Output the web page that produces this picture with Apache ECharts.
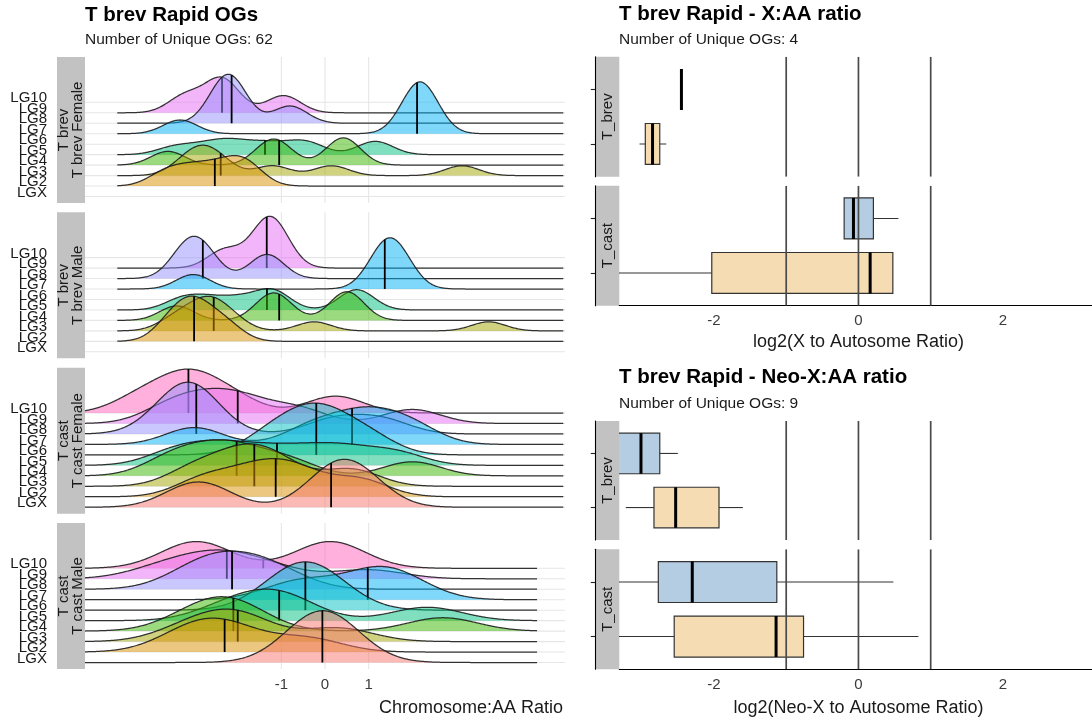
<!DOCTYPE html>
<html>
<head>
<meta charset="utf-8">
<script src="https://cdn.jsdelivr.net/npm/echarts@6/dist/echarts.min.js"></script>
<style>
  html, body { margin: 0; padding: 0; background: #ffffff; }
  #chart { width: 1092px; height: 721px; }
</style>
</head>
<body>
<div id="chart"></div>
<script>
// ---------------------------------------------------------------------------
// Data
// ---------------------------------------------------------------------------
// Linkage groups, listed bottom to top
const LG_NAMES = ['LGX', 'LG2', 'LG3', 'LG4', 'LG5', 'LG6', 'LG7', 'LG8', 'LG9', 'LG10'];

// log2 chromosome:AA ratios of the rapid OGs, one list per linkage group (order of LG_NAMES)
const BREV_FEMALE = [
  [],
  [-3.7, -3.2, -2.75, -2.3, -1.95, -1.7],
  [-3.2, -2.9, -2.7, -2.39, -1.2, 0.15, 3.14],
  [-3.6, -1.3, -1.05, 0.37, 0.47],
  [-3.5, -2.9, -2.4, -2.1, -1.6, -1.15, -0.6, -0.3, 1.05, 1.25],
  [],
  [-3.32, 2.0, 2.11, 2.25, 2.35],
  [-2.38, -2.2, -2.08, -0.8],
  [-3.2, -2.42, -2.3, -0.95],
  []
];
const BREV_MALE = [
  [],
  [-3.6, -3.3, -3.05, -2.95, -2.6, -2.2],
  [-3.5, -3.1, -2.8, -2.6, -2.5, -2.1, -0.25, 3.75],
  [-3.4, -1.3, -1.05, 0.45, 0.55],
  [-3.3, -2.7, -2.0, -1.33, -1.1, 0.65, 0.8],
  [],
  [-3.02, 1.25, 1.37, 1.6, 1.75],
  [-3.2, -2.8, -1.33],
  [-2.3, -1.42, -1.25, -1.1],
  []
];
const CAST_FEMALE = [
  [-3.2, -2.6, -0.05, 0.33, 0.55, 1.0],
  [-2.8, -1.8, -1.13, -0.5, 0.8],
  [-3.0, -2.1, -1.62, -1.0, 0.6],
  [-3.6, -2.9, -2.3, -1.75, -0.8, 2.0],
  [-3.5, -2.7, -2.0, -1.1, -0.2, 0.6, 1.65],
  [-1.3, -0.6, -0.2, 0.2, 1.0],
  [-3.0, -0.3, 0.62, 1.2, 2.0],
  [-3.6, -3.15, -3.0, -2.9, 0.2, 1.3],
  [-3.6, -2.9, -2.3, -1.7, -0.6, 2.0],
  [-4.2, -3.2, -3.13, -2.2, 0.24]
];
const CAST_MALE = [
  [-0.3, -0.06, 0.2],
  [-3.2, -2.6, -2.0, -0.4],
  [-3.1, -2.2, -1.8, 0.3],
  [-3.0, -2.3, -1.9, 2.7],
  [-2.2, -1.3, -0.8, 2.34],
  [-0.9, -0.45, 0.0],
  [-0.6, 0.98, 1.7],
  [-2.9, -2.13, -1.2],
  [-3.8, -3.0, -2.4, -2.1, -1.2, 1.0],
  [-2.95, 0.12]
];
const RIDGE_TICKS = [-1, 0, 1];

// Box plot five-number summaries [min, q1, median, q3, max]; row 0 = Female, row 1 = Male
const BOX_GROUPS = ['Female', 'Male'];
const XAA_BREV = [[-3.03, -2.95, -2.85, -2.75, -2.66], [-2.45, -2.45, -2.45, -2.45, -2.45]];
const XAA_CAST = [[-3.6, -2.03, 0.162, 0.476, 0.476], [-0.198, -0.198, -0.069, 0.207, 0.553]];
const NEOX_BREV = [[-3.22, -2.83, -2.53, -1.93, -1.60], [-3.6, -3.4, -3.01, -2.75, -2.50]];
const NEOX_CAST = [[-3.6, -2.55, -1.14, -0.76, 0.83], [-3.6, -2.77, -2.30, -1.13, 0.484]];
const BOX_TICKS = [-2, 0, 2];
const REF_LINES = [-1, 0, 1];

// ---------------------------------------------------------------------------
// Layout and style
// ---------------------------------------------------------------------------
const FONT = '"Liberation Sans", Arial, Helvetica, sans-serif';
const LG_COLORS = ['#F8766D', '#D89000', '#A3A500', '#39B600', '#00BF7D',
                   '#00BFC4', '#00B0F6', '#9590FF', '#E76BF3', '#FF62BC'];
const FILL_ALPHA = 0.5;
const RIDGE_LINE = 'rgba(25,25,25,0.88)';
const STRIP_FILL = '#c2c2c2';
const TEXT_DARK = '#1a1a1a';
const TICK_TEXT = '#3b3b3b';

const RIDGE_LEFT = 85, RIDGE_RIGHT_EDGE = 565;
const PANEL_TOP = [57, 212.3, 367.7, 523];
const PANEL_H = 146;
const Y_MIN = -0.62, Y_MAX = 13.33;       // LGX sits at 0, LG10 at 9
const X_MIN = -5.5, X_MAX = 5.5;
const PEAK = 4.95;                         // tallest ridge, in row spacings
const LABEL_LIFT = 0.38;                   // row labels sit slightly above their baselines
const LABEL_GAP = 38;                      // px between row labels and the panel

const RIDGE_PANELS = [
  { samples: BREV_FEMALE, bw: 0.39, range: [-4.76, 5.47], strip: ['T brev', 'T brev Female'] },
  { samples: BREV_MALE,   bw: 0.39, range: [-4.76, 5.47], strip: ['T brev', 'T brev Male'] },
  { samples: CAST_FEMALE, bw: 0.65, range: [-5.5, 5.47],  strip: ['T cast', 'T cast Female'] },
  { samples: CAST_MALE,   bw: 0.80, range: [-5.5, 4.87],  strip: ['T cast', 'T cast Male'] }
];

const BOX_LEFT = 619.3, BOX_RIGHT = -5.6;
const BOX_XMIN = -3.31, BOX_XMAX = 3.31;
const BOX_COLORS = ['#f5dcb2', '#b4cde3'];
const BOX_PANELS = [
  { stats: XAA_BREV,  top: 56.7,  h: 120, strip: 'T_brev', axis: false },
  { stats: XAA_CAST,  top: 185.7, h: 120, strip: 'T_cast', axis: true },
  { stats: NEOX_BREV, top: 421,   h: 119, strip: 'T_brev', axis: false },
  { stats: NEOX_CAST, top: 549.3, h: 120, strip: 'T_cast', axis: true }
];

// ---------------------------------------------------------------------------
// Density ridges (Gaussian kernel, joint bandwidth per panel)
// ---------------------------------------------------------------------------
function kde(pts, h, x) {
  let s = 0;
  for (const p of pts) { const u = (x - p) / h; s += Math.exp(-0.5 * u * u); }
  return s / (pts.length * h * Math.sqrt(2 * Math.PI));
}
function median(pts) {
  const s = pts.slice().sort((a, b) => a - b);
  const pos = (s.length - 1) / 2;
  return (s[Math.floor(pos)] + s[Math.ceil(pos)]) / 2;
}
function rgba(hex, a) {
  const n = parseInt(hex.slice(1), 16);
  return 'rgba(' + (n >> 16) + ',' + ((n >> 8) & 255) + ',' + (n & 255) + ',' + a + ')';
}

function buildRidges(panel) {
  const step = 0.02;
  const raw = [];
  let maxD = 0;
  for (let k = LG_NAMES.length - 1; k >= 0; k--) {
    const pts = panel.samples[k];
    if (!pts.length) continue;
    const curve = [];
    for (let x = panel.range[0]; x <= panel.range[1] + 1e-9; x += step) {
      const d = kde(pts, panel.bw, x);
      if (d > maxD) maxD = d;
      curve.push([x, d]);
    }
    const m = median(pts);
    raw.push({ base: k, curve, med: m, medD: kde(pts, panel.bw, m) });
  }
  const sc = PEAK / maxD;
  return raw.map(r => ({
    base: r.base,
    curve: r.curve.map(([x, d]) => [x, d * sc]),
    med: r.med,
    medH: r.medD * sc,
    fill: rgba(LG_COLORS[r.base], FILL_ALPHA)
  }));
}

function ridgeRenderer(ridges) {
  return function (params, api) {
    const r = ridges[params.dataIndex];
    const line = r.curve.map(([x, y]) => api.coord([x, r.base + y]));
    const first = api.coord([r.curve[0][0], r.base]);
    const last = api.coord([r.curve[r.curve.length - 1][0], r.base]);
    const mb = api.coord([r.med, r.base]);
    const mt = api.coord([r.med, r.base + r.medH]);
    return {
      type: 'group',
      children: [
        { type: 'polygon', shape: { points: line.concat([last, first]) },
          style: { fill: r.fill, stroke: null } },
        { type: 'polyline', shape: { points: line },
          style: { stroke: RIDGE_LINE, lineWidth: 1.25, fill: null } },
        { type: 'line', shape: { x1: mb[0], y1: mb[1], x2: mt[0], y2: mt[1] },
          style: { stroke: '#000', lineWidth: 1.8 } }
      ]
    };
  };
}

function ridgeGridRenderer(params, api) {
  const i = params.dataIndex;
  let a, b;
  if (i < LG_NAMES.length) {
    a = api.coord([X_MIN, i]); b = api.coord([X_MAX, i]);
  } else {
    const v = RIDGE_TICKS[i - LG_NAMES.length];
    a = api.coord([v, Y_MIN]); b = api.coord([v, Y_MAX]);
  }
  return { type: 'line', shape: { x1: a[0], y1: a[1], x2: b[0], y2: b[1] },
           style: { stroke: '#e6e6e6', lineWidth: 1.1 } };
}

// Row labels: placed through the panel's own scales, all of them kept even where they overlap
function rowLabelRenderer(params, api) {
  const i = params.dataIndex;
  const pt = api.coord([X_MIN, i + LABEL_LIFT]);
  return { type: 'text', x: pt[0] - LABEL_GAP, y: pt[1],
           style: { text: LG_NAMES[i], fill: TEXT_DARK, font: '15px ' + FONT,
                    align: 'right', verticalAlign: 'middle' } };
}

// ---------------------------------------------------------------------------
// Box plots
// ---------------------------------------------------------------------------
function boxRenderer(stats) {
  return function (params, api) {
    const i = params.dataIndex;
    const [mn, q1, md, q3, mx] = stats[i];
    const y = i + 1, hw = 0.375;
    const p = v => api.coord([v, y]);
    const tl = api.coord([q1, y + hw]), br = api.coord([q3, y - hw]);
    const mTop = api.coord([md, y + hw]), mBot = api.coord([md, y - hw]);
    const ch = [
      { type: 'line', shape: { x1: p(mn)[0], y1: p(mn)[1], x2: p(q1)[0], y2: p(q1)[1] },
        style: { stroke: '#333', lineWidth: 1.1 } },
      { type: 'line', shape: { x1: p(q3)[0], y1: p(q3)[1], x2: p(mx)[0], y2: p(mx)[1] },
        style: { stroke: '#333', lineWidth: 1.1 } }
    ];
    if (q3 > q1) {
      ch.push({ type: 'rect', shape: { x: tl[0], y: tl[1], width: br[0] - tl[0], height: br[1] - tl[1] },
                style: { fill: BOX_COLORS[i], stroke: '#333', lineWidth: 1.2 } });
    }
    ch.push({ type: 'line', shape: { x1: mTop[0], y1: mTop[1], x2: mBot[0], y2: mBot[1] },
              style: { stroke: '#000', lineWidth: 3 } });
    return { type: 'group', children: ch };
  };
}
function refLineRenderer(params, api) {
  const v = REF_LINES[params.dataIndex];
  const a = api.coord([v, 0.4]), b = api.coord([v, 2.6]);
  return { type: 'line', shape: { x1: a[0], y1: a[1], x2: b[0], y2: b[1] },
           style: { stroke: '#4a4a4a', lineWidth: 1.7 } };
}

// ---------------------------------------------------------------------------
// Option
// ---------------------------------------------------------------------------
const grids = [], xAxes = [], yAxes = [], series = [], graphics = [];

RIDGE_PANELS.forEach((panel, p) => {
  const top = PANEL_TOP[p];
  grids.push({ left: RIDGE_LEFT, width: RIDGE_RIGHT_EDGE - RIDGE_LEFT, top: top, height: PANEL_H,
               containLabel: false, outerBoundsMode: 'none' });
  const last = p === RIDGE_PANELS.length - 1;
  xAxes.push({
    type: 'value', gridIndex: p, min: X_MIN, max: X_MAX,
    axisLine: { show: false }, axisTick: { show: false }, splitLine: { show: false },
    axisLabel: { show: last, customValues: RIDGE_TICKS, fontSize: 15, color: TICK_TEXT,
                 margin: 8, fontFamily: FONT, showMinLabel: true, showMaxLabel: true }
  });
  yAxes.push({
    type: 'value', gridIndex: p, min: Y_MIN, max: Y_MAX,
    axisLine: { show: false }, axisTick: { show: false }, splitLine: { show: false },
    axisLabel: { show: false }
  });
  series.push({
    type: 'custom', xAxisIndex: p, yAxisIndex: p, z: 1, silent: true, clip: false,
    data: LG_NAMES.map((_, i) => [0, i]).concat(RIDGE_TICKS.map(v => [v, 0])),
    encode: { x: 0, y: 1 },
    renderItem: ridgeGridRenderer
  });
  const ridges = buildRidges(panel);
  series.push({
    type: 'custom', xAxisIndex: p, yAxisIndex: p, z: 2, silent: true, clip: false,
    data: ridges.map(r => [r.med, r.base]),
    encode: { x: 0, y: 1 },
    renderItem: ridgeRenderer(ridges)
  });
  series.push({
    type: 'custom', xAxisIndex: p, yAxisIndex: p, z: 3, silent: true, clip: false,
    data: LG_NAMES.map((_, i) => [X_MIN, i]),
    encode: { x: 0, y: 1 },
    renderItem: rowLabelRenderer
  });
  graphics.push({ type: 'rect', shape: { x: 57, y: top, width: 28, height: PANEL_H },
                  style: { fill: STRIP_FILL }, silent: true });
  panel.strip.forEach((txt, j) => {
    graphics.push({ type: 'text', x: 64.3 + j * 13.5, y: top + PANEL_H / 2, rotation: Math.PI / 2,
      style: { text: txt, fill: TEXT_DARK, font: '15px ' + FONT, align: 'center', verticalAlign: 'middle' },
      silent: true });
  });
});

BOX_PANELS.forEach((bp, j) => {
  const gi = RIDGE_PANELS.length + j;
  grids.push({ left: BOX_LEFT, right: BOX_RIGHT, top: bp.top, height: bp.h,
               containLabel: false, outerBoundsMode: 'none' });
  xAxes.push({
    type: 'value', gridIndex: gi, min: BOX_XMIN, max: BOX_XMAX, show: bp.axis,
    axisLine: { show: bp.axis, onZero: false, lineStyle: { color: '#000', width: 1.1 } },
    axisTick: { show: false }, splitLine: { show: false },
    axisLabel: { show: bp.axis, customValues: BOX_TICKS, fontSize: 15, color: TICK_TEXT,
                 margin: 8, fontFamily: FONT }
  });
  yAxes.push({
    type: 'value', gridIndex: gi, min: 0.4, max: 2.6, offset: 24,
    axisLine: { show: true, onZero: false, lineStyle: { color: '#000', width: 1.1 } },
    axisTick: { show: true, customValues: [1, 2], length: 4.5, lineStyle: { color: '#222', width: 1.1 } },
    axisLabel: { show: false }, splitLine: { show: false }
  });
  series.push({
    type: 'custom', xAxisIndex: gi, yAxisIndex: gi, z: 2, silent: true, clip: true,
    data: bp.stats.map((s, i) => [s[2], i + 1]),
    encode: { x: 0, y: 1 },
    renderItem: boxRenderer(bp.stats)
  });
  series.push({
    type: 'custom', xAxisIndex: gi, yAxisIndex: gi, z: 3, silent: true, clip: true,
    data: REF_LINES.map(v => [v, 1.5]),
    encode: { x: 0, y: 1 },
    renderItem: refLineRenderer
  });
  graphics.push({ type: 'rect', shape: { x: 596, y: bp.top, width: BOX_LEFT - 596, height: bp.h },
                  style: { fill: STRIP_FILL }, silent: true });
  graphics.push({ type: 'text', x: 607.7, y: bp.top + bp.h / 2, rotation: Math.PI / 2,
    style: { text: bp.strip, fill: TEXT_DARK, font: '15px ' + FONT, align: 'center', verticalAlign: 'middle' },
    silent: true });
});

function label(text, x, y, size, opts) {
  graphics.push({ type: 'text', x: x, y: y, silent: true,
    style: Object.assign({ text: text, fill: TEXT_DARK, font: size + 'px ' + FONT,
                           align: 'left', verticalAlign: 'middle' }, opts || {}) });
}
label('T brev Rapid OGs', 85, 15, 20.5, { font: 'bold 20.5px ' + FONT, fill: '#000' });
label('Number of Unique OGs: 62', 85, 40, 15.5);
label('T brev Rapid - X:AA ratio', 619, 14.5, 20.5, { font: 'bold 20.5px ' + FONT, fill: '#000' });
label('Number of Unique OGs: 4', 619, 40, 15.5);
label('T brev Rapid - Neo-X:AA ratio', 619, 377, 20.5, { font: 'bold 20.5px ' + FONT, fill: '#000' });
label('Number of Unique OGs: 9', 619, 403.5, 15.5);
label('Chromosome:AA Ratio', 563, 708, 18, { align: 'right' });
label('log2(X to Autosome Ratio)', 858.5, 342, 18, { align: 'center' });
label('log2(Neo-X to Autosome Ratio)', 858.5, 708.5, 18, { align: 'center' });

const chart = echarts.init(document.getElementById('chart'), null, { renderer: 'canvas' });
chart.setOption({
  animation: false,
  backgroundColor: '#ffffff',
  textStyle: { fontFamily: FONT },
  grid: grids,
  xAxis: xAxes,
  yAxis: yAxes,
  series: series,
  graphic: { elements: graphics }
});
</script>
</body>
</html>
